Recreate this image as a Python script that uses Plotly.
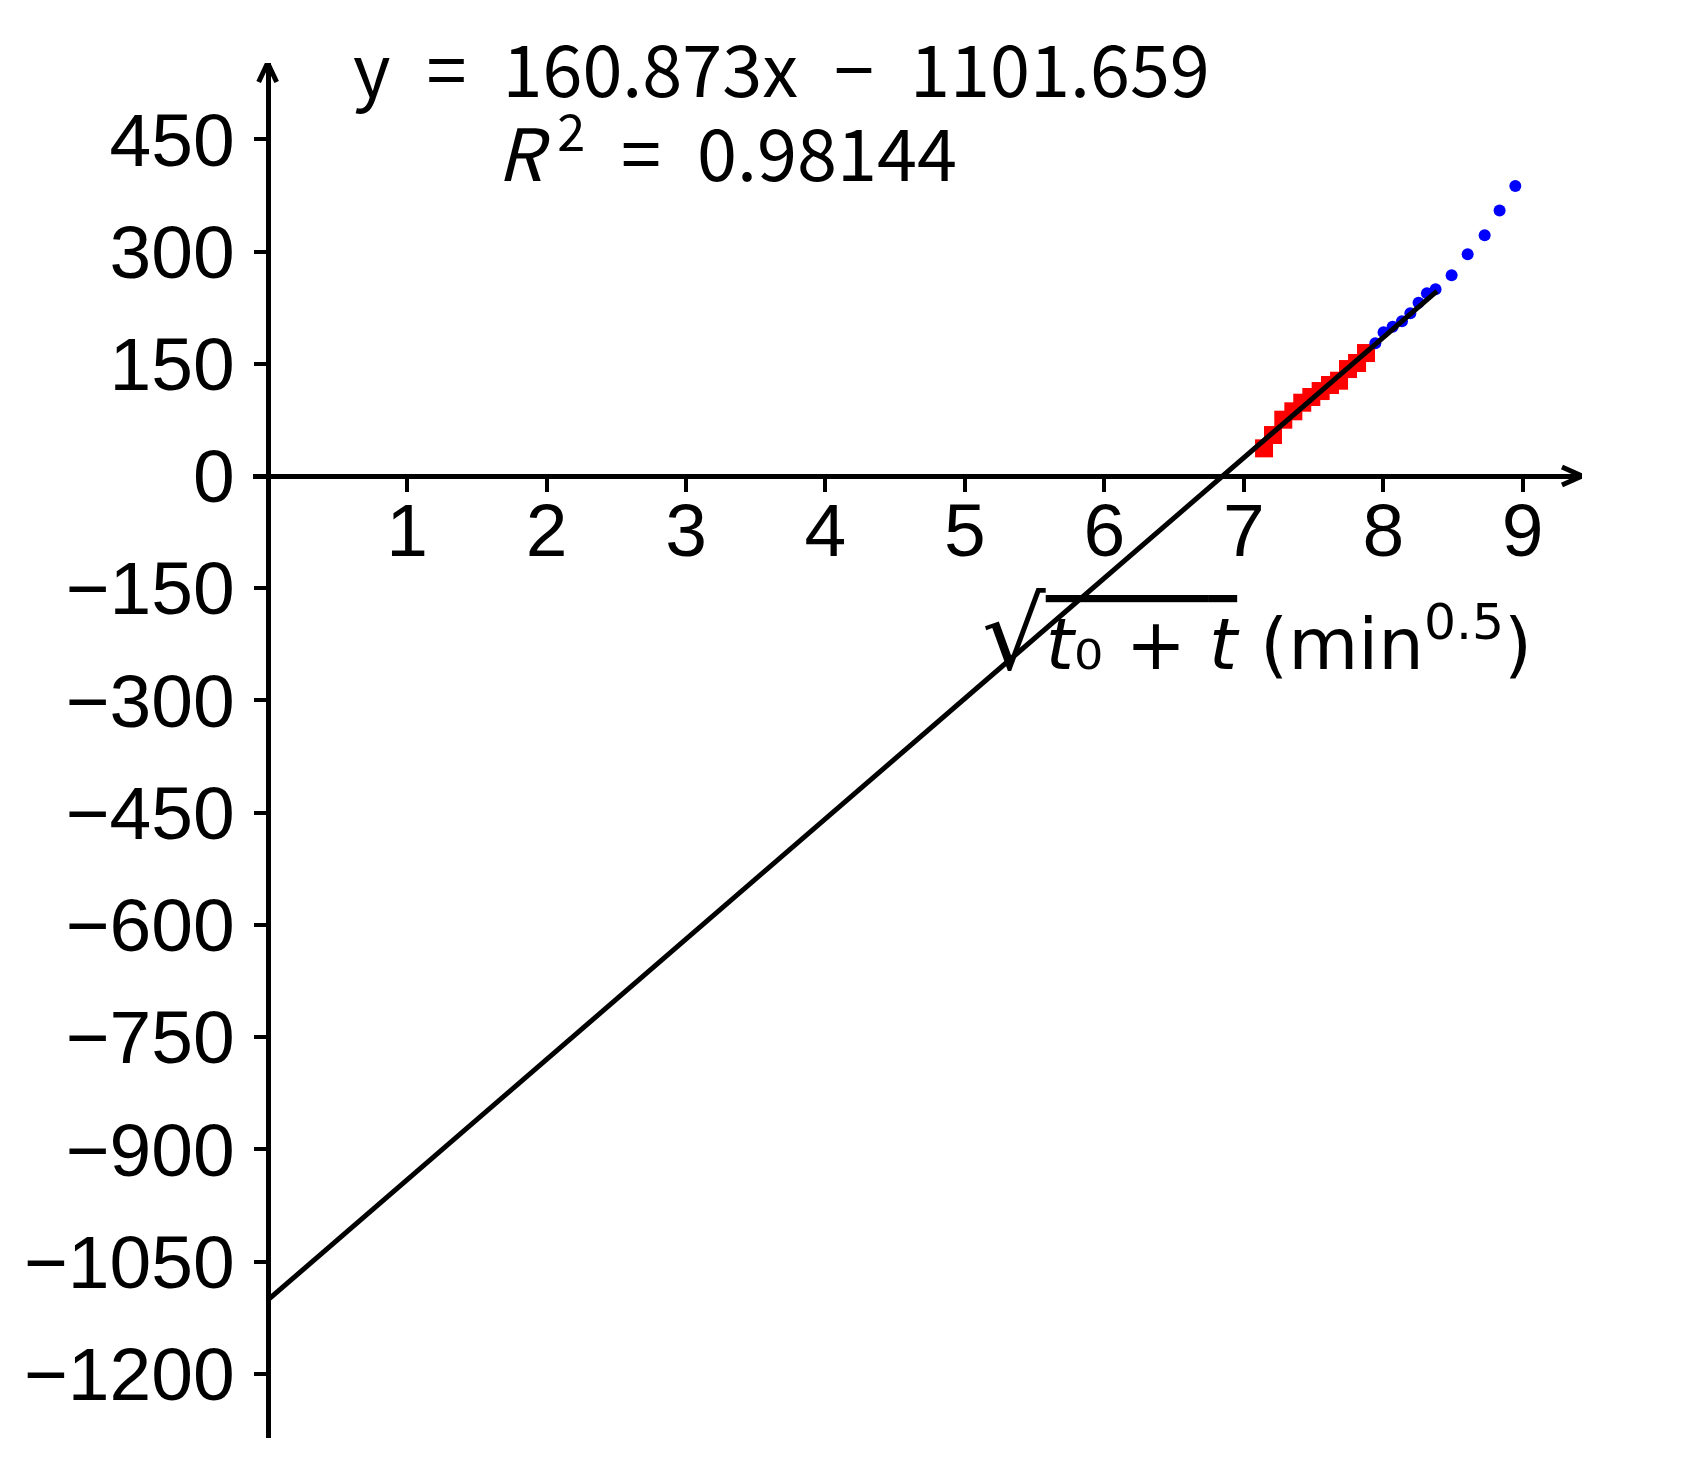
import plotly.graph_objects as go

# ---------------- data ----------------
red_x = [7.145, 7.209, 7.283, 7.355, 7.419, 7.484, 7.551, 7.618, 7.683, 7.747, 7.812, 7.876]
red_y = [37.0, 54.8, 75.3, 86.5, 98.0, 105.6, 113.6, 121.7, 127.4, 143.0, 151.1, 164.4]

blue_x = [7.943, 8.002, 8.067, 8.134, 8.194, 8.253, 8.313, 8.375, 8.490, 8.605, 8.727, 8.834, 8.947]
blue_y = [177.4, 192.1, 199.6, 206.8, 217.5, 231.7, 244.3, 249.6, 268.3, 296.4, 321.8, 354.9, 387.7]

slope = 160.873
intercept = -1101.659
r_squared = 0.98144
fit_x = [0.0, 8.385]
fit_y = [slope * v + intercept for v in fit_x]

x_tickvals = [1, 2, 3, 4, 5, 6, 7, 8, 9]
y_tickvals = [450, 300, 150, 0, -150, -300, -450, -600, -750, -900, -1050, -1200]

x_range = [-0.105, 9.425]
y_range = [-1285.9, 552.1]

# ---------------- layout constants ----------------
W, H = 1692, 1475
OFF = 8  # page body margin
ML, MR, MT, MB = 245, 118, 55, 45
PW = W - ML - MR
PH = H - MT - MB
px_per_x = PW / (x_range[1] - x_range[0])
px_per_y = PH / (y_range[1] - y_range[0])


def paper_x(px):
    return (px - OFF - ML) / PW


def paper_y(py):
    return (H - MB - (py - OFF)) / PH


xaxis_pos = (0 - y_range[0]) / (y_range[1] - y_range[0])
yaxis_pos = (0 - x_range[0]) / (x_range[1] - x_range[0])

fig = go.Figure()

fig.add_trace(go.Scatter(
    x=red_x, y=red_y, mode="markers",
    marker=dict(symbol="square", size=18, color="#ff0000", line=dict(width=0)),
    showlegend=False,
))
fig.add_trace(go.Scatter(
    x=blue_x, y=blue_y, mode="markers",
    marker=dict(symbol="circle", size=12, color="#0000ff", line=dict(width=0)),
    showlegend=False,
))
fig.add_trace(go.Scatter(
    x=fit_x, y=fit_y, mode="lines",
    line=dict(color="black", width=5),
    showlegend=False,
))

tick_font = dict(family="Liberation Sans, Arial, sans-serif", size=75, color="black")

fig.update_layout(
    width=W, height=H,
    margin=dict(l=ML, r=MR, t=MT, b=MB, pad=0),
    paper_bgcolor="white", plot_bgcolor="white",
    xaxis=dict(
        range=x_range, anchor="free", position=xaxis_pos,
        showline=True, linecolor="black", linewidth=5,
        showgrid=False, zeroline=False,
        tickmode="array", tickvals=x_tickvals, ticktext=[str(v) for v in x_tickvals],
        ticks="outside", ticklen=13, tickwidth=3.5, tickcolor="black",
        tickfont=tick_font, ticklabelstandoff=-26,
    ),
    yaxis=dict(
        range=y_range, anchor="free", position=yaxis_pos,
        showline=True, linecolor="black", linewidth=5,
        showgrid=False, zeroline=False,
        tickmode="array", tickvals=y_tickvals,
        ticktext=[str(v).replace("-", "\u2212") for v in y_tickvals],
        ticks="outside", ticklen=12, tickwidth=3.5, tickcolor="black",
        tickfont=tick_font, ticklabelstandoff=4,
    ),
)

# axis arrowheads (chevrons) sized in pixels, converted to data units
ax_len, ax_half = 20 / px_per_x, 9 / px_per_y
fig.add_shape(type="path",
              path=f"M {x_range[1]-ax_len},{ax_half} L {x_range[1]},0 L {x_range[1]-ax_len},{-ax_half}",
              xref="x", yref="y", line=dict(color="black", width=5))
ay_len, ay_half = 19 / px_per_y, 9 / px_per_x
fig.add_shape(type="path",
              path=f"M {-ay_half},{y_range[1]-ay_len} L 0,{y_range[1]} L {ay_half},{y_range[1]-ay_len}",
              xref="x", yref="y", line=dict(color="black", width=5))

eq_font = dict(family="Noto Sans CJK SC, Liberation Sans, sans-serif", size=72, color="black")
sign = "\u2212" if intercept < 0 else "+"
fig.add_annotation(
    xref="paper", yref="paper", x=paper_x(351), y=paper_y(65),
    xanchor="left", yanchor="middle", showarrow=False,
    text=f"y\u2002=\u2002{slope:.3f}x\u2002{sign}\u2002{abs(intercept):.3f}",
    font=eq_font,
)
fig.add_annotation(
    xref="paper", yref="paper", x=paper_x(495), y=paper_y(147),
    xanchor="left", yanchor="middle", showarrow=False,
    text=f"<i>R</i>\u2009<sup>2</sup>\u2002=\u2002{r_squared:.5f}",
    font=eq_font,
)

# x-axis title
fig.add_annotation(
    xref="paper", yref="paper", x=paper_x(980), y=paper_y(634),
    xanchor="left", yanchor="middle", showarrow=False,
    text=("<span style='font-size:100px'>\u221a</span>"
          "<span style='text-decoration:overline;text-decoration-thickness:3px'>"
          "<i>t</i>\u2080 + <i>t</i></span> (min<sup>0.5</sup>)"),
    font=dict(family="DejaVu Sans, sans-serif", size=72, color="black"),
)

fig.write_html("out.html")
